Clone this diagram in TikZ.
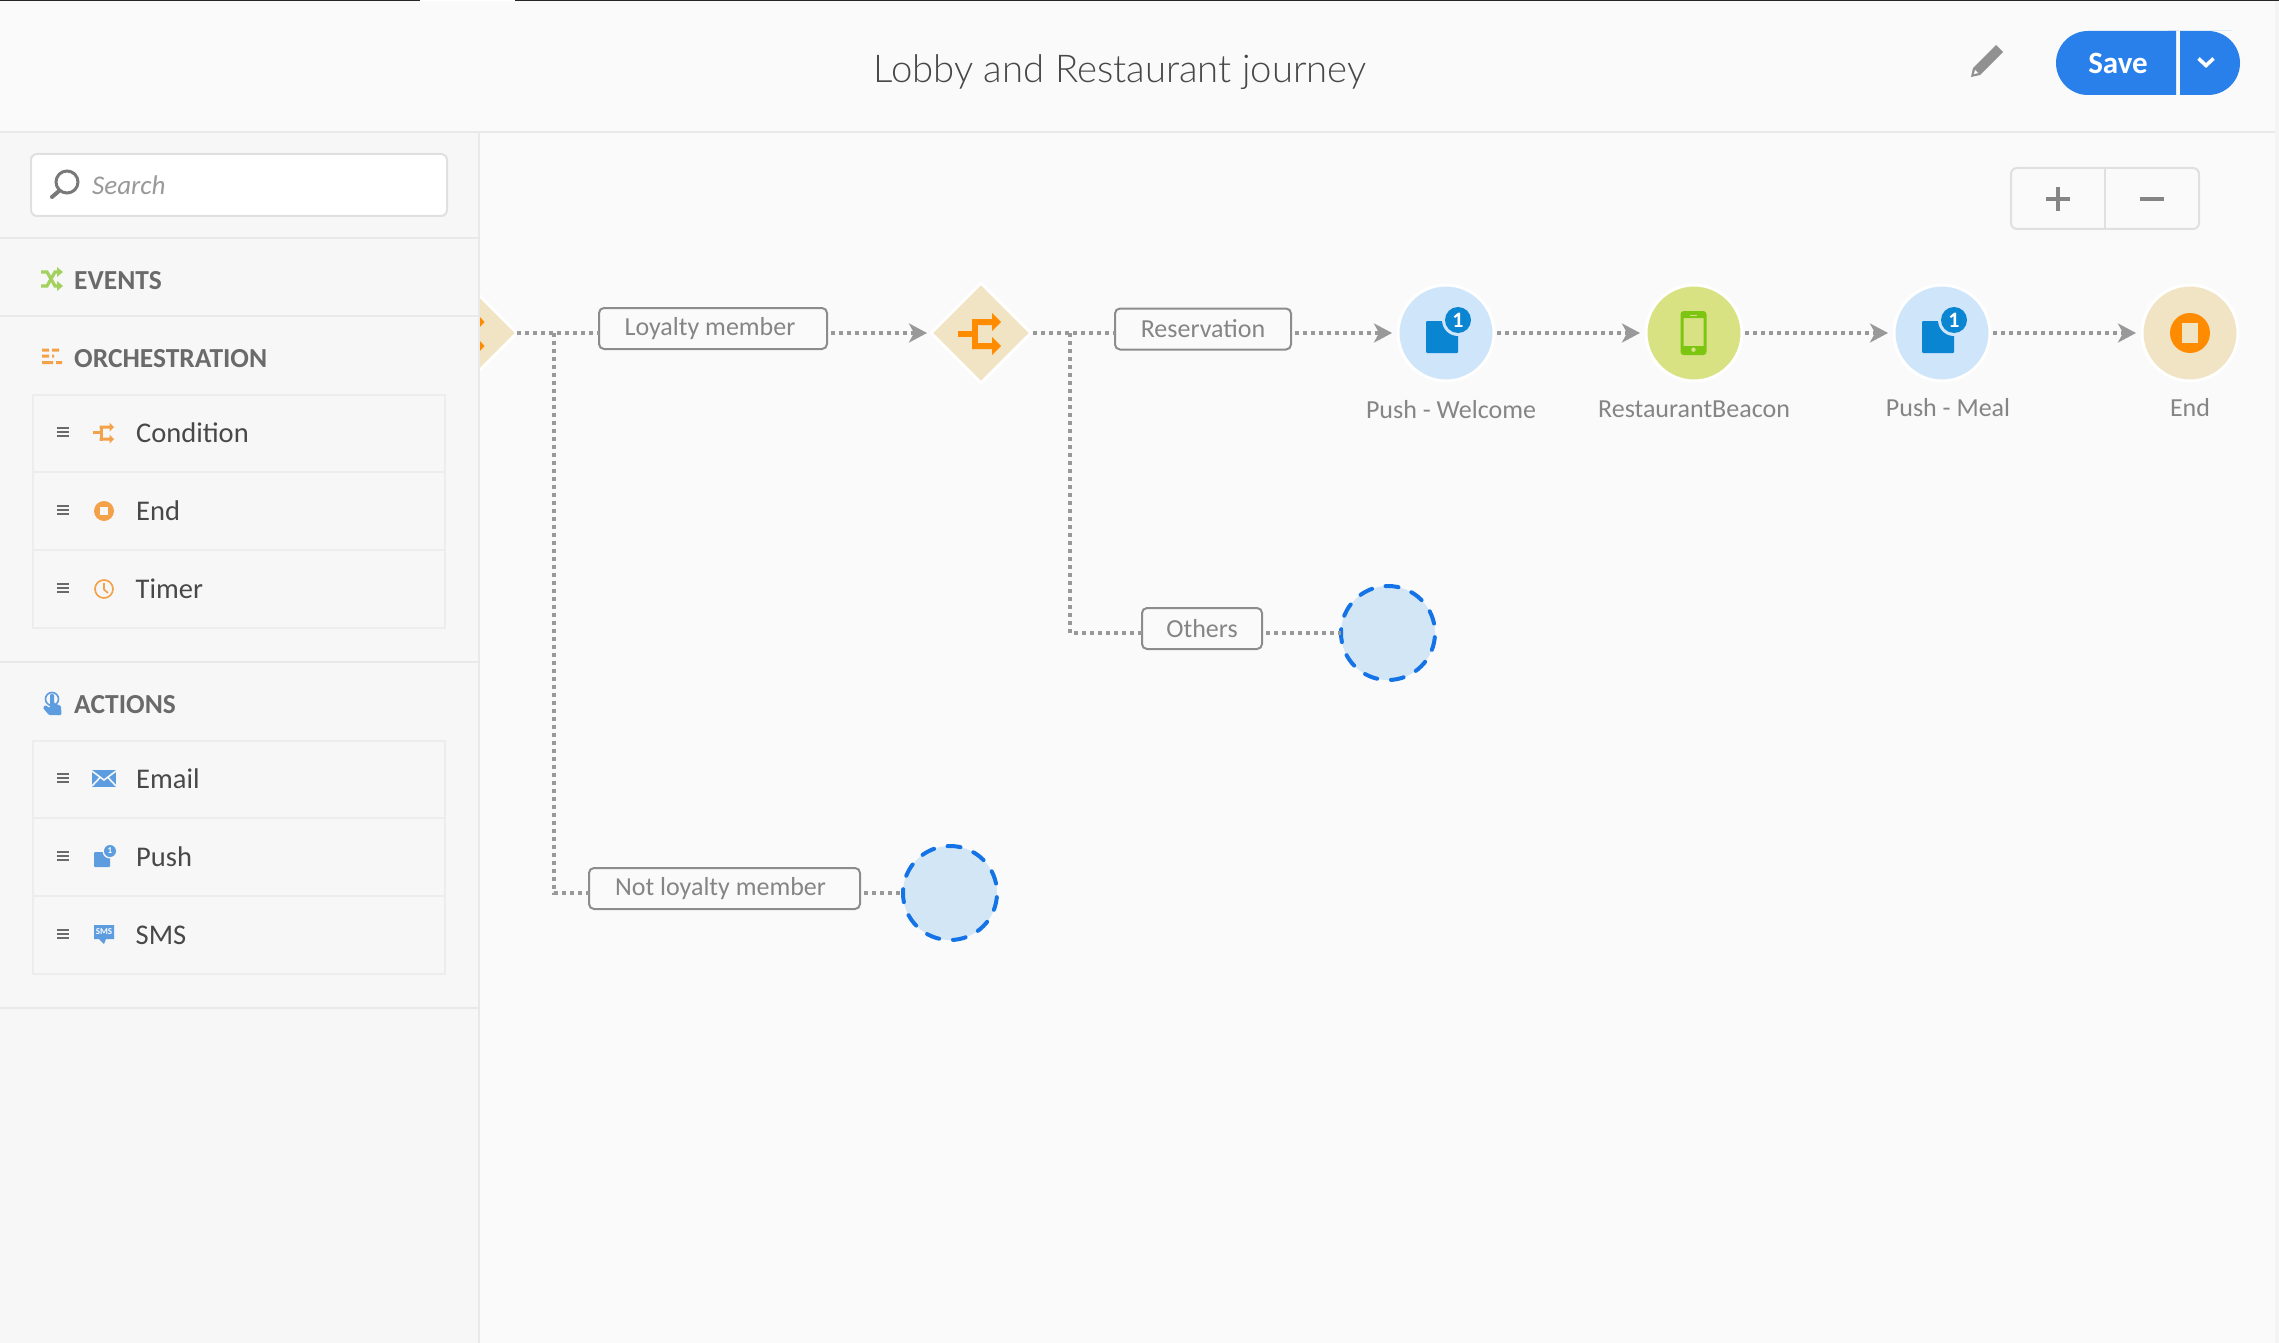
\documentclass[tikz,border=0pt]{standalone}
\usepackage{fontspec}
\setmainfont{Carlito}
\newfontfamily\lightfont{Lato Light}
\usetikzlibrary{shapes.geometric,arrows.meta}
\definecolor{mainbg}{HTML}{FAFAFA}
\definecolor{sidebg}{HTML}{F7F7F7}
\definecolor{rule}{HTML}{E9E9E9}
\definecolor{ctlrule}{HTML}{E0E0E0}
\definecolor{boxrule}{HTML}{EDEDED}
\definecolor{conn}{HTML}{999999}
\definecolor{lbl}{HTML}{858585}
\definecolor{lblrule}{HTML}{8C8C8C}
\definecolor{condfill}{HTML}{F1E4C4}
\definecolor{orangeA}{HTML}{FF8C00}
\definecolor{orangeB}{HTML}{F4A24A}
\definecolor{pushfill}{HTML}{CFE5F9}
\definecolor{pushblue}{HTML}{0A85D2}
\definecolor{beaconfill}{HTML}{D9E283}
\definecolor{beacongreen}{HTML}{7CC511}
\definecolor{slotfill}{HTML}{D3E6F6}
\definecolor{slotdash}{HTML}{1473E6}
\definecolor{savebtn}{HTML}{2A80EA}
\definecolor{sideblue}{HTML}{5D9CDF}
\definecolor{sidegreen}{HTML}{A2D15E}
\definecolor{itemtxt}{HTML}{484848}
\definecolor{headtxt}{HTML}{6A6A6A}
\tikzset{
  px/.style={font=\fontsize{#1}{#1}\selectfont},
  condnode/.style={diamond,aspect=1,minimum width=100pt,minimum height=100pt,inner sep=0pt,outer sep=0pt,fill=condfill,draw=white,line width=3pt,line join=round},
  stepnode/.style={circle,minimum size=96pt,inner sep=0pt,outer sep=0pt,draw=white,line width=3pt},
  slotnode/.style={circle,minimum size=94pt,inner sep=0pt,outer sep=0pt,fill=slotfill,draw=slotdash,line width=4pt,line cap=round,dash pattern=on 13pt off 13.85pt,dash phase=17.3pt},
  labelbox/.style={draw=lblrule,line width=2pt,rounded corners=5pt,fill=mainbg,minimum height=41pt,inner sep=0pt,outer sep=0pt,text=lbl,px=26},
  steptext/.style={text=lbl,px=26,inner sep=0pt},
  dotline/.style={draw=conn,line width=4pt,dash pattern=on 4pt off 4pt},
  arrowline/.style={dotline,-{Stealth[length=18pt,width=19pt,inset=5pt,fill=conn]}},
  itemtext/.style={text=itemtxt,px=28.5,anchor=west,inner sep=0pt},
  headtext/.style={text=headtxt,anchor=west,inner sep=0pt,font=\fontsize{27.5}{28}\selectfont\bfseries},
  burger/.style={draw=headtxt,line width=1.8pt},
}
\newcommand{\burgerat}[1]{\draw[burger] (57,#1-4) -- (69,#1-4) (57,#1) -- (69,#1) (57,#1+4) -- (69,#1+4);}
\newcommand{\condicon}[4]{% x y scale colour
  \begin{scope}[shift={(#1,#2)},scale=#3]
    \fill[#4] (-23,-2.5) rectangle (-9,3.5);
    \fill[#4] (-9,-14) rectangle (-3,16);
    \fill[#4] (-9,-14) -- (11,-14) -- (11,-20) -- (20,-11) -- (11,-2) -- (11,-8) -- (-9,-8) -- cycle;
    \fill[#4] (-9,10) -- (11,10) -- (11,4) -- (20,13) -- (11,22) -- (11,16) -- (-9,16) -- cycle;
  \end{scope}}
\newcommand{\pushicon}[4]{% x y scale colour
  \begin{scope}[shift={(#1,#2)},scale=#3]
    \fill[#4,rounded corners=1pt] (-20,-12) rectangle (12,20);
    \fill[#4] (12,-13) circle (13);
  \end{scope}}
\begin{document}
\begin{tikzpicture}[x=1pt,y=-1pt]
\useasboundingbox (0,0) rectangle (2279,1343);
% backgrounds
\fill[mainbg] (0,0) rectangle (2279,1343);
\fill[boxrule!60] (2275,0) rectangle (2279,1343);
\fill[black!85] (0,0) rectangle (2279,1.5);
\fill[white] (420,0) rectangle (515,1.5);
\fill[rule] (0,131) rectangle (2275,133);
% header
\node[text=itemtxt,inner sep=0pt,font=\lightfont\fontsize{38.3}{38}\selectfont] (title) at (1120,72) {Lobby and Restaurant journey};
\fill[conn!95!black] (1996,45) -- (2003,52) -- (1980,75) -- (1971,77) -- (1973,68) -- cycle;
\fill[white] (1974,74) -- (1975,70) -- (1978,73) -- cycle;
\fill[savebtn,rounded corners=32pt] (2120,31) -- (2056,31) -- (2056,95) -- (2120,95) [sharp corners] -- (2176,95) -- (2176,31) -- cycle;
\fill[savebtn,rounded corners=32pt] (2200,95) -- (2240,95) -- (2240,31) -- (2200,31) [sharp corners] -- (2180,31) -- (2180,95) -- cycle;
\node[text=white,inner sep=0pt,font=\fontsize{31}{31}\selectfont\bfseries] (save) at (2118,63) {Save};
\draw[white,line width=3.6pt,line join=miter] (2198.5,58.5) -- (2206,65.5) -- (2213.5,58.5);
% zoom control
\draw[draw=ctlrule,line width=2pt,rounded corners=6pt,fill=mainbg] (2011,168) rectangle (2199,229);
\draw[draw=ctlrule,line width=2pt] (2105,168) -- (2105,229);
\draw[draw=lbl,line width=3.6pt] (2046,199) -- (2070,199) (2058,187) -- (2058,211);
\draw[draw=lbl,line width=3.6pt] (2140,199) -- (2164,199);
% off-panel condition
\node[condnode] (cond0) at (467,333) {};
\fill[orangeA] (480,317) -- (484.5,322) -- (480,327) -- cycle;
\fill[orangeA] (480,341) -- (484.5,346) -- (480,351) -- cycle;
% sidebar
\fill[sidebg] (0,133) rectangle (478,1343);
\fill[rule] (478,133) rectangle (480,1343);
\draw[draw=ctlrule,line width=2pt,rounded corners=6pt,fill=white] (31,154) rectangle (447,216);
\draw[draw=headtxt!90,line width=3pt] (67,182) circle (11);
\draw[draw=headtxt!90,line width=4pt,line cap=round] (59,191) -- (52,197);
\node[text=conn,anchor=west,inner sep=0pt,font=\fontsize{27}{28}\selectfont\itshape] (search) at (92,185) {Search};
\fill[rule] (0,237) rectangle (478,239);
\fill[rule] (0,315) rectangle (478,317);
\fill[rule] (0,661) rectangle (478,663);
\fill[rule] (0,1007) rectangle (478,1009);
% section heads
\node[headtext] (hEvents) at (74,280.5) {EVENTS};
\node[headtext] (hOrch) at (74,358.5) {ORCHESTRATION};
\node[headtext] (hActions) at (74,704.5) {ACTIONS};
% events icon
\draw[sidegreen,line width=3.2pt] (41,272) -- (47,272) -- (55,286) -- (58,286) (41,286) -- (47,286) -- (55,272) -- (58,272);
\fill[sidegreen] (57,267) -- (63,272) -- (57,277) -- cycle (57,281) -- (63,286) -- (57,291) -- cycle;
% orchestration icon
\fill[orangeB] (42,348.5) rectangle (49,351.5) (52,348.5) rectangle (59,351.5)
  (42,354.5) rectangle (49,357.5) (52,354.5) rectangle (54,357.5)
  (42,361) rectangle (53,364) (56,361) rectangle (62,364);
% actions icon
\draw[sideblue,line width=1.6pt] (52,699) circle (6.5);
\fill[sideblue,rounded corners=1pt] (50,694) -- (54,694) -- (54,703) -- (61,706) -- (61.5,715) -- (49,715) -- (43,708) -- (45,705) -- (50,708) -- cycle;
% list boxes
\draw[draw=boxrule,line width=2pt,fill=sidebg] (33,395) rectangle (445,628);
\draw[draw=boxrule,line width=2pt] (33,472) -- (445,472) (33,550) -- (445,550);
\draw[draw=boxrule,line width=2pt,fill=sidebg] (33,741) rectangle (445,974);
\draw[draw=boxrule,line width=2pt] (33,818) -- (445,818) (33,896) -- (445,896);
\burgerat{432}\burgerat{510}\burgerat{588}\burgerat{778}\burgerat{856}\burgerat{934}
\node[itemtext] (iCond) at (136,433) {Condition};
\node[itemtext] (iEnd) at (136,511) {End};
\node[itemtext] (iTimer) at (135.5,589) {Timer};
\node[itemtext] (iEmail) at (136,779) {Email};
\node[itemtext] (iPush) at (136,857) {Push};
\node[itemtext] (iSMS) at (135.5,935) {SMS};
% sidebar item icons
\condicon{104}{432.5}{0.5}{orangeB}
\fill[orangeB] (104,511) circle (10);
\fill[sidebg] (100,507) rectangle (108,515);
\draw[orangeB,line width=1.7pt] (104,589) circle (9);
\draw[orangeB,line width=1.7pt] (104,583) -- (104,589.5) -- (108,593);
\fill[sideblue] (92,770) rectangle (116,787);
\draw[sidebg,line width=1.6pt] (92,771) -- (104,780) -- (116,771) (92,786) -- (100,777.5) (116,786) -- (108,777.5);
\fill[sideblue,rounded corners=1pt] (94,852) rectangle (110,867);
\fill[sidebg] (110,851) circle (7.5);
\fill[sideblue] (110,851) circle (6);
\node[text=white,inner sep=0pt,font=\fontsize{9}{9}\selectfont\bfseries] (iPushOne) at (110,851) {1};
\fill[sideblue] (94,925) rectangle (114,939) (99,939) -- (104,944) -- (106,939) -- cycle;
\node[text=white,inner sep=0pt,font=\fontsize{9}{9}\selectfont\bfseries] (iSmsTxt) at (104,932) {SMS};
% journey nodes
\node[labelbox,minimum width=228pt] (lLoyal) at (713,328.5) {\hspace*{-6pt}\raisebox{-1pt}{Loyalty member}};
\node[condnode] (cond1) at (981,333) {};
\condicon{981}{333}{1}{orangeA}
\node[labelbox,minimum width=176pt] (lResv) at (1203,329) {\raisebox{1pt}{Reservation}};
\node[stepnode,fill=pushfill] (nWelcome) at (1446,333) {};
\node[stepnode,fill=beaconfill] (nBeacon) at (1694,333) {};
\node[stepnode,fill=pushfill] (nMeal) at (1942,333) {};
\node[stepnode,fill=condfill] (nEnd) at (2190,333) {};
\node[labelbox,minimum width=120pt] (lOthers) at (1202,628.5) {\raisebox{1pt}{Others}};
\node[slotnode] (slotA) at (1388,633) {};
\node[labelbox,minimum width=271pt] (lNot) at (724.5,888.5) {\hspace*{-8pt}\raisebox{-1pt}{Not loyalty member}};
\node[slotnode] (slotB) at (950,893) {};
\node[steptext] (tWelcome) at (1451,410) {Push - Welcome};
\node[steptext] (tBeacon) at (1694,409) {RestaurantBeacon};
\node[steptext] (tMeal) at (1948,408) {Push - Meal};
\node[steptext] (tEnd) at (2190,408) {End};
% icons in the journey nodes
\pushicon{1446}{333}{1}{pushblue}
\fill[pushfill] (1458,320) circle (16);
\fill[pushblue] (1458,320) circle (13);
\node[text=white,inner sep=0pt,font=\fontsize{22}{22}\selectfont\bfseries] (oneA) at (1458,320) {1};
\pushicon{1942}{333}{1}{pushblue}
\fill[pushfill] (1954,320) circle (16);
\fill[pushblue] (1954,320) circle (13);
\node[text=white,inner sep=0pt,font=\fontsize{22}{22}\selectfont\bfseries] (oneB) at (1954,320) {1};
\draw[beacongreen,line width=3pt,rounded corners=2pt,fill=beaconfill] (1682,312.5) rectangle (1705,353.5);
\fill[beacongreen] (1682,312.5) rectangle (1705,318) (1682,346) rectangle (1705,353.5);
\fill[beaconfill] (1690,314.5) rectangle (1697,316);
\fill[beaconfill] (1693.5,349.7) circle (2.2);
\fill[orangeA] (2190,333) circle (20);
\fill[condfill] (2182,323) rectangle (2198,343);
% connectors
\coordinate (jA) at (554,333);
\coordinate (jB) at (1070,333);
\draw[dotline] (cond0.east) -- (lLoyal.west |- cond0.east);
\draw[arrowline,shorten >=4pt,shorten <=4pt] (lLoyal.east |- cond1.west) -- (cond1.west);
\draw[dotline] (jA) |- (lNot.west |- slotB.west);
\draw[dotline,shorten <=4pt] (lNot.east |- slotB.west) -- (slotB.west);
\draw[dotline,shorten <=2pt] (cond1.east) -- (lResv.west |- cond1.east);
\draw[dotline] (jB) |- (lOthers.west |- slotA.west);
\draw[dotline,shorten <=4pt] (lOthers.east |- slotA.west) -- (slotA.west);
\draw[arrowline,shorten >=6pt,shorten <=4pt] (lResv.east |- nWelcome.west) -- (nWelcome.west);
\draw[arrowline,shorten >=6pt,shorten <=3pt] (nWelcome.east) -- (nBeacon.west);
\draw[arrowline,shorten >=6pt,shorten <=3pt] (nBeacon.east) -- (nMeal.west);
\draw[arrowline,shorten >=6pt,shorten <=3pt] (nMeal.east) -- (nEnd.west);
\end{tikzpicture}
\end{document}
